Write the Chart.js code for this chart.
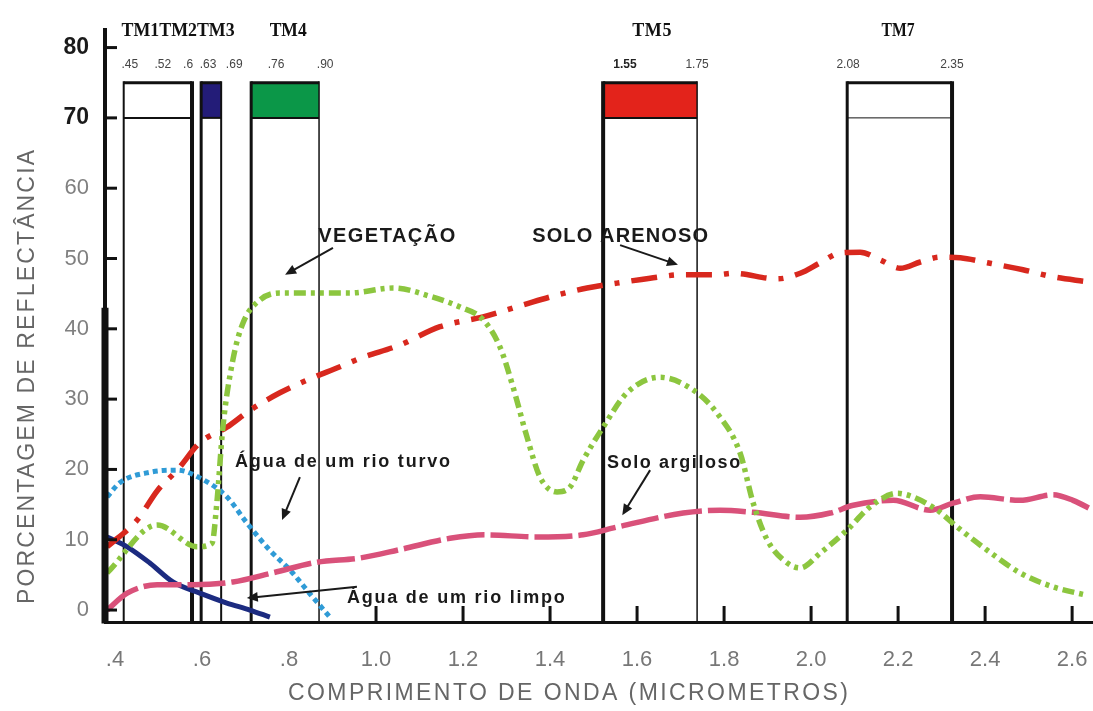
<!DOCTYPE html>
<html>
<head>
<meta charset="utf-8">
<script src="https://cdn.jsdelivr.net/npm/chart.js@4.4.0/dist/chart.umd.min.js"></script>
<style>
  body { margin: 0; background: #fff; }
  #grafico { display: block; }
</style>
</head>
<body>
<canvas id="grafico" width="1093" height="711"></canvas>
<script>
// curvas: comprimento de onda (um) e reflectancia (%)
const vegX = [0.382, 0.497, 0.589, 0.623, 0.634, 0.648, 0.671, 0.694, 0.733, 0.779, 0.864, 0.94, 1.039, 1.131, 1.193, 1.246, 1.285, 1.315, 1.347, 1.377, 1.416, 1.446, 1.476, 1.522, 1.577, 1.653, 1.729, 1.784, 1.837, 1.867, 1.899, 1.945, 1.975, 2.021, 2.083, 2.136, 2.198, 2.234, 2.29, 2.336, 2.405, 2.48, 2.556, 2.634]
const vegY = [5.3, 12.1, 9.0, 9.5, 15.2, 26.0, 35.6, 40.8, 44.1, 45.1, 45.1, 45.1, 45.8, 44.5, 43.1, 41.3, 37.4, 31.7, 24.6, 18.9, 16.8, 17.5, 21.3, 26.0, 30.9, 33.1, 31.3, 28.0, 22.3, 15.2, 10.0, 6.7, 6.0, 8.1, 11.4, 14.7, 16.6, 16.1, 14.2, 11.8, 8.5, 5.3, 3.3, 2.1]

const arenosoX = [0.382, 0.451, 0.499, 0.543, 0.595, 0.657, 0.71, 0.779, 0.841, 0.917, 0.963, 1.055, 1.147, 1.246, 1.338, 1.416, 1.485, 1.554, 1.63, 1.706, 1.784, 1.821, 1.922, 1.975, 2.021, 2.067, 2.113, 2.159, 2.205, 2.251, 2.297, 2.343, 2.405, 2.487, 2.556, 2.634]
const arenosoY = [9.0, 12.8, 17.1, 19.9, 23.8, 26.0, 28.4, 30.9, 32.7, 34.6, 35.8, 37.7, 40.3, 41.7, 43.4, 44.8, 45.8, 46.5, 47.2, 47.7, 47.7, 47.9, 47.1, 47.9, 49.4, 50.8, 50.9, 49.8, 48.6, 49.5, 50.2, 50.1, 49.4, 48.4, 47.4, 46.7]

const argilosoX = [0.382, 0.428, 0.497, 0.579, 0.671, 0.763, 0.864, 0.963, 1.055, 1.17, 1.25, 1.37, 1.476, 1.554, 1.706, 1.791, 1.867, 1.975, 2.044, 2.097, 2.189, 2.274, 2.326, 2.389, 2.48, 2.556, 2.602, 2.648]
const argilosoY = [0.0, 2.4, 3.6, 3.6, 4.0, 5.3, 6.8, 7.4, 8.6, 10.2, 10.7, 10.4, 10.7, 11.8, 13.8, 14.2, 13.9, 13.2, 13.8, 14.9, 15.6, 14.2, 15.2, 16.1, 15.6, 16.4, 15.6, 14.2]

const turvoX = [0.382, 0.411, 0.48, 0.543, 0.595, 0.657, 0.703, 0.756, 0.802, 0.855, 0.894]
const turvoY = [16.1, 18.1, 19.6, 19.9, 18.8, 16.1, 12.4, 8.5, 5.7, 1.8, -1.0]

const limpoX = [0.382, 0.428, 0.48, 0.533, 0.595, 0.657, 0.71, 0.756]
const limpoY = [10.4, 9.0, 6.7, 4.0, 2.4, 1.0, 0.0, -1.0]

// eixos
const xTicks = [0.4, 0.6, 0.8, 1.0, 1.2, 1.4, 1.6, 1.8, 2.0, 2.2, 2.4, 2.6]
const xTickLabels = ['.4', '.6', '.8', '1.0', '1.2', '1.4', '1.6', '1.8', '2.0', '2.2', '2.4', '2.6']
const yTicks = [0, 10, 20, 30, 40, 50, 60, 70, 80]

// bandas do TM (como desenhadas)
const boxStart = [0.42, 0.598, 0.713, 1.522, 2.083]
const boxEnd = [0.577, 0.644, 0.869, 1.738, 2.324]
const boxFill = ['#ffffff', '#231c78', '#0b9748', '#e3231b', '#ffffff']
const boxLeftW = [2, 3, 3, 4, 3]
const boxRightW = [4, 2, 1.5, 1.5, 4]
const boxStripeW = [2, 2, 2, 2, 1]
const boxTop = 75
const boxStripe = 70

const bandLabels = ['TM1TM2TM3', 'TM4', 'TM5', 'TM7']
const bandLabelX = [0.545, 0.798, 1.634, 2.2]
const bandLabelW = [0.26, 0.085, 0.09, 0.076]
const limitLabels = ['.45', '.52', '.6', '.63', '.69', '.76', '.90', '1.55', '1.75', '2.08', '2.35']
const limitLabelX = [0.434, 0.51, 0.568, 0.614, 0.674, 0.77, 0.883, 1.572, 1.738, 2.085, 2.324]

const notas = [
  { texto: 'VEGETAÇÃO', x0: 0.867, x1: 1.182, y: 53.2, seta: [0.901, 51.5, 0.791, 47.7] },
  { texto: 'SOLO ARENOSO', x0: 1.359, x1: 1.763, y: 53.1, seta: [1.561, 51.9, 1.694, 49.1] },
  { texto: 'Água de um rio turvo', x0: 0.676, x1: 1.17, y: 21.1, seta: [0.825, 18.9, 0.784, 12.8] },
  { texto: 'Solo argiloso', x0: 1.531, x1: 1.837, y: 20.9, seta: [1.63, 19.9, 1.566, 13.5] },
  { texto: 'Água de um rio limpo', x0: 0.933, x1: 1.434, y: 1.7, seta: [0.956, 3.3, 0.703, 1.7] }
]

const series = [
  { label: 'Vegetação', x: vegX, y: vegY, cor: '#8cc63f', traco: [12, 5, 4, 5, 4, 5], largura: 5.5 },
  { label: 'Solo arenoso', x: arenosoX, y: arenosoY, cor: '#d8281e', traco: [26, 12, 5, 12], largura: 5.5 },
  { label: 'Solo argiloso', x: argilosoX, y: argilosoY, cor: '#d9517a', traco: [38, 6], largura: 5.5 },
  { label: 'Água turva', x: turvoX, y: turvoY, cor: '#2f9bd6', traco: [5, 4], largura: 5 },
  { label: 'Água limpa', x: limpoX, y: limpoY, cor: '#1c2b80', traco: [], largura: 5 }
]

function linha(ctx, x0, y0, x1, y1) {
  ctx.beginPath()
  ctx.moveTo(x0, y0)
  ctx.lineTo(x1, y1)
  ctx.stroke()
}

function textoAjustado(ctx, texto, cx, cy, largura) {
  ctx.letterSpacing = '0px'
  ctx.textAlign = 'left'
  const natural = ctx.measureText(texto).width
  if (natural < largura && texto.length > 1) {
    ctx.letterSpacing = ((largura - natural) / (texto.length - 1)) + 'px'
    ctx.fillText(texto, cx - largura / 2, cy)
  } else {
    ctx.fillText(texto, cx - largura / 2, cy, largura)
  }
  ctx.letterSpacing = '0px'
}

function seta(ctx, x0, y0, x1, y1) {
  const ang = Math.atan2(y1 - y0, x1 - x0)
  const tam = 12
  linha(ctx, x0, y0, x1 - Math.cos(ang) * tam * 0.7, y1 - Math.sin(ang) * tam * 0.7)
  ctx.beginPath()
  ctx.moveTo(x1, y1)
  ctx.lineTo(x1 - tam * Math.cos(ang - 0.42), y1 - tam * Math.sin(ang - 0.42))
  ctx.lineTo(x1 - tam * Math.cos(ang + 0.42), y1 - tam * Math.sin(ang + 0.42))
  ctx.closePath()
  ctx.fill()
}

const bandas = {
  id: 'bandas',
  beforeDatasetsDraw(chart) {
    const ctx = chart.ctx
    const xs = chart.scales.x
    const ys = chart.scales.y
    const base = chart.chartArea.bottom
    const yTop = ys.getPixelForValue(boxTop)
    const yMid = ys.getPixelForValue(boxStripe)
    ctx.save()
    ctx.strokeStyle = '#111'
    boxStart.forEach((ini, i) => {
      const x0 = xs.getPixelForValue(ini)
      const x1 = xs.getPixelForValue(boxEnd[i])
      ctx.fillStyle = boxFill[i]
      ctx.fillRect(x0, yTop, x1 - x0, yMid - yTop)
      ctx.lineWidth = 3
      linha(ctx, x0, yTop, x1, yTop)
      ctx.lineWidth = boxStripeW[i]
      linha(ctx, x0, yMid, x1, yMid)
      ctx.lineWidth = boxLeftW[i]
      linha(ctx, x0, yTop - 1.5, x0, base)
      ctx.lineWidth = boxRightW[i]
      linha(ctx, x1, yTop - 1.5, x1, base)
    })
    ctx.restore()
  }
}

const anotacoes = {
  id: 'anotacoes',
  afterDatasetsDraw(chart) {
    const ctx = chart.ctx
    const xs = chart.scales.x
    const ys = chart.scales.y
    const area = chart.chartArea
    ctx.save()

    // marcas dos eixos para dentro
    ctx.strokeStyle = '#111'
    ctx.lineWidth = 3
    ys.ticks.forEach(t => {
      const y = ys.getPixelForValue(t.value)
      linha(ctx, area.left, y, area.left + 12, y)
    })
    xs.ticks.filter(t => t.value >= 1).forEach(t => {
      const x = xs.getPixelForValue(t.value)
      linha(ctx, x, area.bottom, x, area.bottom - 16)
    })
    ctx.lineWidth = 7
    linha(ctx, area.left, ys.getPixelForValue(43), area.left, area.bottom + 1.5)

    // textos das curvas e setas
    ctx.fillStyle = '#1a1a1a'
    ctx.strokeStyle = '#1a1a1a'
    ctx.lineWidth = 2
    ctx.textBaseline = 'middle'
    notas.forEach(n => {
      const caixaAlta = n.texto === n.texto.toUpperCase()
      ctx.font = caixaAlta ? 'bold 20px "Liberation Sans", Arial, sans-serif' : 'bold 18px "Liberation Sans", Arial, sans-serif'
      const x0 = xs.getPixelForValue(n.x0)
      const x1 = xs.getPixelForValue(n.x1)
      textoAjustado(ctx, n.texto, (x0 + x1) / 2, ys.getPixelForValue(n.y), x1 - x0)
      const s = n.seta
      seta(ctx, xs.getPixelForValue(s[0]), ys.getPixelForValue(s[1]), xs.getPixelForValue(s[2]), ys.getPixelForValue(s[3]))
    })
    ctx.restore()
  },
  afterDraw(chart) {
    const ctx = chart.ctx
    const xs = chart.scales.x
    const ys = chart.scales.y
    ctx.save()
    ctx.textBaseline = 'middle'

    // nomes das bandas
    ctx.fillStyle = '#111'
    ctx.font = 'bold 18px "Liberation Serif", "Times New Roman", serif'
    bandLabels.forEach((b, i) => {
      const cx = xs.getPixelForValue(bandLabelX[i])
      const w = xs.getPixelForValue(bandLabelX[i] + bandLabelW[i] / 2) - xs.getPixelForValue(bandLabelX[i] - bandLabelW[i] / 2)
      textoAjustado(ctx, b, cx, ys.getPixelForValue(82.3), w)
    })

    // limites das bandas
    ctx.textAlign = 'center'
    limitLabels.forEach((l, i) => {
      ctx.font = l === '1.55' ? 'bold 12px "Liberation Sans", Arial, sans-serif' : '12px "Liberation Sans", Arial, sans-serif'
      ctx.fillStyle = l === '1.55' ? '#222' : '#444'
      ctx.fillText(l, xs.getPixelForValue(limitLabelX[i]), ys.getPixelForValue(77.5))
    })

    // titulos dos eixos
    ctx.fillStyle = '#666'
    ctx.font = '23px "Liberation Sans", Arial, sans-serif'
    textoAjustado(ctx, 'COMPRIMENTO DE ONDA (MICROMETROS)', 568, 694, 560)
    ctx.translate(28, 377)
    ctx.rotate(-Math.PI / 2)
    textoAjustado(ctx, 'PORCENTAGEM DE REFLECTÂNCIA', 0, 0, 454)
    ctx.restore()
  }
}

const datasets = series.map(s => ({
  label: s.label,
  data: s.x.map((x, i) => ({ x: x, y: s.y[i] })),
  borderColor: s.cor,
  borderWidth: s.largura,
  borderDash: s.traco,
  pointRadius: 0,
  fill: false,
  cubicInterpolationMode: 'monotone'
}))

const ctx = document.getElementById('grafico').getContext('2d')
const grafico = new Chart(ctx, {
  type: 'line',
  data: { datasets },
  options: {
    responsive: false,
    animation: false,
    devicePixelRatio: 1,
    layout: { padding: { top: 30, left: 0, right: 0, bottom: 0 } },
    plugins: { legend: { display: false }, tooltip: { enabled: false } },
    scales: {
      x: {
        type: 'linear',
        min: 0.377,
        max: 2.648,
        afterBuildTicks: scale => { scale.ticks = xTicks.map(v => ({ value: v })) },
        afterFit: scale => { scale.height = 89; scale.paddingLeft = 0; scale.paddingRight = 0 },
        grid: { display: false },
        border: { display: true, color: '#111', width: 3 },
        ticks: {
          padding: 17,
          color: '#777',
          font: { family: '"Liberation Sans", Arial, sans-serif', size: 22 },
          callback: (v, i) => xTickLabels[i]
        }
      },
      y: {
        min: -1.7,
        max: 82.5,
        afterBuildTicks: scale => { scale.ticks = yTicks.map(v => ({ value: v })) },
        afterFit: scale => { scale.width = 105; scale.paddingTop = 0; scale.paddingBottom = 0 },
        grid: { display: false },
        border: { display: true, color: '#111', width: 4 },
        ticks: {
          padding: 8,
          color: c => (c.tick && c.tick.value >= 70 ? '#1a1a1a' : '#808080'),
          font: c => (c.tick && c.tick.value >= 70
            ? { family: '"Liberation Sans", Arial, sans-serif', size: 23, weight: 'bold' }
            : { family: '"Liberation Sans", Arial, sans-serif', size: 22 })
        }
      }
    }
  },
  plugins: [bandas, anotacoes]
})
</script>
</body>
</html>
